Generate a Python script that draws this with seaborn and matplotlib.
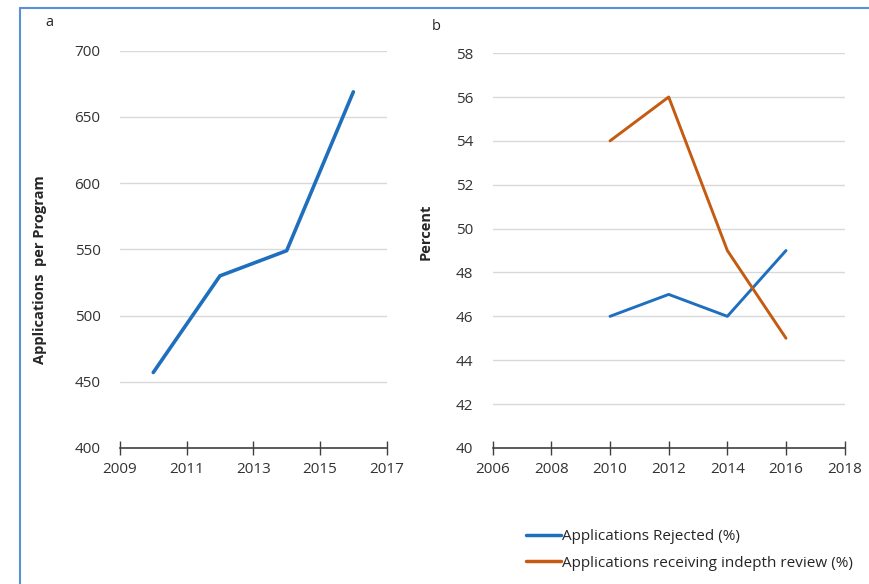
import pandas as pd
import matplotlib.pyplot as plt
import seaborn as sns
from matplotlib.lines import Line2D

# panel a: applications per program
years_a = [2010, 2012, 2014, 2016]
apps_per_program = [457, 530, 549, 669]

# panel b: percent rejected / in-depth review
years_b = [2010, 2012, 2014, 2016]
rejected = [46, 47, 46, 49]
indepth = [54, 56, 49, 45]
series_names = ['Applications Rejected (%)', 'Applications receiving indepth review (%)']

BLUE = '#1f6fbf'
ORANGE = '#c55a11'

sns.set_style('white')
plt.rcParams['font.family'] = ['Open Sans', 'DejaVu Sans']

fig = plt.figure(figsize=(8.69, 5.84), dpi=100)
ax1 = fig.add_axes([0.138, 0.233, 0.307, 0.680])
ax2 = fig.add_axes([0.567, 0.233, 0.405, 0.676])

df_a = pd.DataFrame({'Year': years_a, 'Apps': apps_per_program})
sns.lineplot(data=df_a, x='Year', y='Apps', ax=ax1, color=BLUE, linewidth=2.6)

df_b = pd.DataFrame({
    'Year': years_b * 2,
    'Percent': rejected + indepth,
    'Series': [series_names[0]] * len(years_b) + [series_names[1]] * len(years_b),
})
sns.lineplot(data=df_b, x='Year', y='Percent', hue='Series', ax=ax2,
             palette=[BLUE, ORANGE], linewidth=2.1, legend=False)

def style_axis(ax, xticks, yticks):
    ax.set_xlim(xticks[0], xticks[-1])
    ax.set_ylim(yticks[0], yticks[-1])
    ax.set_xticks(xticks)
    ax.set_yticks(yticks)
    for y in yticks[1:]:
        ax.axhline(y, color='#d9d9d9', linewidth=1.0, zorder=0)
    for s in ['left', 'right', 'top']:
        ax.spines[s].set_visible(False)
    ax.spines['bottom'].set_color('#404040')
    ax.spines['bottom'].set_linewidth(1.2)
    ax.tick_params(axis='x', bottom=True, direction='inout', length=10, width=1.0,
                   color='#404040', labelsize=11, labelcolor='#333333', pad=5)
    ax.tick_params(axis='y', left=False, length=0, labelsize=11,
                   labelcolor='#333333', pad=14)
    ax.set_xlabel('')

style_axis(ax1, [2009, 2011, 2013, 2015, 2017], list(range(400, 701, 50)))
style_axis(ax2, list(range(2006, 2019, 2)), list(range(40, 59, 2)))

ax1.set_ylabel('Applications  per Program', fontsize=10.5, fontweight='bold')
ax1.yaxis.set_label_coords(-0.273, 0.45)
ax2.set_ylabel('Percent', fontsize=10.5, fontweight='bold')
ax2.yaxis.set_label_coords(-0.17, 0.547)

fig.text(0.052, 0.962, 'a', fontsize=10.5, va='center')
fig.text(0.497, 0.954, 'b', fontsize=10.5, va='center')

handles = [Line2D([], [], color=BLUE, linewidth=2.5),
           Line2D([], [], color=ORANGE, linewidth=2.5)]
fig.legend(handles, series_names, loc='upper left',
           bbox_to_anchor=(0.605, 0.094), frameon=False, fontsize=11,
           handlelength=2.3, handletextpad=0.1, labelspacing=0.75,
           borderaxespad=0, borderpad=0)

# thin blue frame on the left and top edges
fig.add_artist(Line2D([0.023, 0.023], [0, 0.986], color='#5b8fd6', linewidth=1.5))
fig.add_artist(Line2D([0.023, 1.0], [0.986, 0.986], color='#5b8fd6', linewidth=1.5))

fig.savefig('out.png', dpi=100)
